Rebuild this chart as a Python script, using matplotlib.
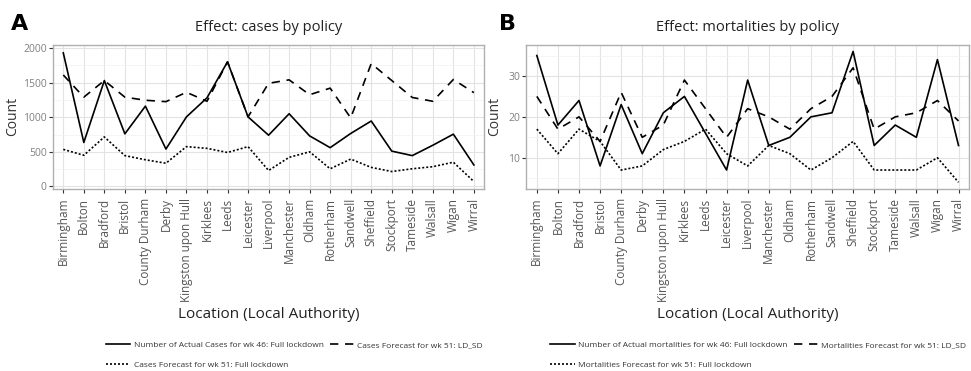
import matplotlib.pyplot as plt
from matplotlib.ticker import MultipleLocator

plt.rcParams['font.family'] = ['Open Sans', 'DejaVu Sans']

# Dati
locations = ['Birmingham', 'Bolton', 'Bradford', 'Bristol', 'County Durham', 'Derby',
             'Kingston upon Hull', 'Kirklees', 'Leeds', 'Leicester', 'Liverpool',
             'Manchester', 'Oldham', 'Rotherham', 'Sandwell', 'Sheffield', 'Stockport',
             'Tameside', 'Walsall', 'Wigan', 'Wirral']

cases_actual = [1930, 635, 1530, 760, 1160, 540, 1005, 1280, 1800, 1005, 740,
                1050, 730, 560, 765, 945, 510, 445, 595, 755, 310]
cases_ldsd = [1610, 1290, 1530, 1290, 1245, 1225, 1360, 1230, 1800, 1005, 1490,
              1540, 1325, 1420, 990, 1775, 1530, 1285, 1230, 1545, 1355]
cases_full = [535, 450, 715, 445, 385, 335, 575, 550, 490, 575, 230,
              420, 500, 255, 395, 275, 215, 255, 285, 350, 70]

mort_actual = [35, 18, 24, 8, 23, 11, 21, 25, 16, 7, 29,
               13, 15, 20, 21, 36, 13, 18, 15, 34, 13]
mort_ldsd = [25, 17, 20, 14, 26, 15, 18, 29, 22, 15, 22,
             20, 17, 22, 25, 32, 17, 20, 21, 24, 19]
mort_full = [17, 11, 17, 14, 7, 8, 12, 14, 17, 11, 8,
             13, 11, 7, 10, 14, 7, 7, 7, 10, 4]

fig = plt.figure(figsize=(9.71, 3.71), dpi=100)
axA = fig.add_axes([0.0546, 0.491, 0.444, 0.388])
axB = fig.add_axes([0.542, 0.491, 0.456, 0.388])


def draw_panel(ax, actual, ldsd, full, title, labels, lx, ypad, major, minor):
    x = range(len(locations))
    h1, = ax.plot(x, actual, '-', color='black', lw=1.2, label=labels[0])
    h2, = ax.plot(x, ldsd, color='black', lw=1.2, dashes=(5, 4), label=labels[1])
    h3, = ax.plot(x, full, color='black', lw=1.2, dashes=(1.2, 1.2), label=labels[2])

    ax.set_xticks(list(x))
    ax.set_xticklabels(locations, rotation=90, fontsize=8.5, color='#555555')
    ax.set_xlim(-0.5, len(locations) - 0.5)
    ax.yaxis.set_major_locator(MultipleLocator(major))
    ax.yaxis.set_minor_locator(MultipleLocator(minor))
    ax.tick_params(axis='y', labelsize=7.5, colors='#333333', labelcolor='#808080',
                   length=3, pad=1.5)
    ax.tick_params(axis='x', length=3, colors='#333333', labelcolor='#555555')
    ax.tick_params(axis='y', which='minor', length=0)

    ax.grid(True, which='major', color='#e3e3e3', lw=0.8)
    ax.grid(True, which='minor', axis='y', color='#f2f2f2', lw=0.5)
    ax.set_axisbelow(True)
    for s in ax.spines.values():
        s.set_color('#b0b0b0')
        s.set_linewidth(1)

    ax.set_ylabel('Count', fontsize=10, color='#333333', labelpad=ypad)
    ax.set_xlabel('Location (Local Authority)', fontsize=11, color='#222222', labelpad=4)
    ax.set_title(title, fontsize=10.5, color='#222222', pad=10)

    # legenda: riga 1 = linea piena + tratteggio, riga 2 = punteggiata
    ax.legend([h1, h3, h2], [labels[0], labels[2], labels[1]], ncol=2,
              loc='upper left', bbox_to_anchor=(lx, -1.035), frameon=False,
              fontsize=6.0, handlelength=2.9, columnspacing=0.7, labelspacing=1.5,
              handletextpad=0.45, labelcolor='#333333', borderaxespad=0)


draw_panel(axA, cases_actual, cases_ldsd, cases_full, 'Effect: cases by policy',
           ['Number of Actual Cases for wk 46: Full lockdown',
            'Cases Forecast for wk 51: LD_SD',
            'Cases Forecast for wk 51: Full lockdown'],
           0.115, 2, 500, 250)
axA.set_ylim(-35, 2045)

draw_panel(axB, mort_actual, mort_ldsd, mort_full, 'Effect: mortalities by policy',
           ['Number of Actual mortalities for wk 46: Full lockdown',
            'Mortalities Forecast for wk 51: LD_SD',
            'Mortalities Forecast for wk 51: Full lockdown'],
           0.047, 4, 10, 5)
axB.set_ylim(2.4, 37.6)

# Lettere dei pannelli
fig.text(0.011, 0.92, 'A', fontsize=16, fontweight='bold', family='DejaVu Sans')
fig.text(0.514, 0.92, 'B', fontsize=16, fontweight='bold', family='DejaVu Sans')

fig.savefig('out.png', dpi=100)
